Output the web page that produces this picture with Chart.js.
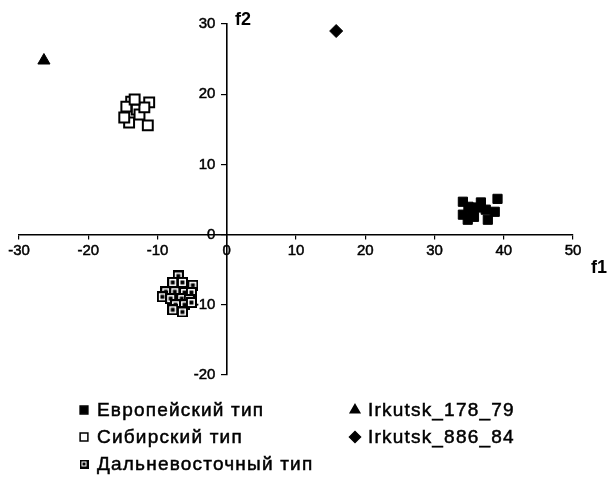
<!DOCTYPE html>
<html>
<head>
<meta charset="utf-8">
<script src="https://cdn.jsdelivr.net/npm/chart.js@4"></script>
<style>
  html, body { margin: 0; padding: 0; background: #fff; }
  #wrap { width: 609px; height: 477px; position: relative; }
</style>
</head>
<body>
<div id="wrap"><canvas id="chart"></canvas></div>
<script>
// данные (f1, f2)
const europeanX = [34.1, 34.1, 34.9, 35.7, 36.7, 37.4, 37.7, 34.8, 39.1, 38.7, 35.5, 36.2];
const europeanY = [4.68, 2.84, 3.96, 2.53, 4.58, 3.55, 2.12, 2.12, 5.09, 3.25, 3.35, 3.86];
const siberianX = [-13.8, -11.2, -13.0, -14.5, -14.1, -11.4, -12.6, -14.8, -11.9, -13.3];
const siberianY = [18.94, 18.84, 17.82, 18.23, 15.97, 15.56, 17.1, 16.69, 18.12, 19.25];
const fareastX = [-7.0, -7.8, -6.4, -4.9, -8.8, -7.5, -6.1, -5.1, -9.3, -8.1, -6.5, -5.4, -7.4, -6.1, -7.8, -6.4, -5.1];
const fareastY = [-5.89, -6.81, -6.81, -7.22, -8.14, -8.14, -8.25, -8.25, -8.86, -9.12, -9.12, -9.27, -9.99, -9.99, -10.71, -11.02, -9.68];
const irk178 = [-26.4, 24.8];
const irk886 = [15.8, 29.0];
const xTicks = [-30, -20, -10, 0, 10, 20, 30, 40, 50];
const yTicks = [-20, -10, 0, 10, 20, 30];

const toPts = (xs, ys) => xs.map((x, i) => ({ x: x, y: ys[i] }));

// маркер "квадрат с точкой"
function dotSquare(n) {
  const c = document.createElement("canvas");
  c.width = n; c.height = n;
  const g = c.getContext("2d");
  g.fillStyle = "#000";
  g.fillRect(0, 0, n, n);
  g.fillStyle = "#fff";
  g.fillRect(2, 2, n - 4, n - 4);
  g.fillStyle = "#000";
  const d = Math.round(n / 3);
  g.fillRect((n - d) / 2, (n - d) / 2, d, d);
  return c;
}

const FONT = "'Liberation Sans', Arial, sans-serif";

const legendItems = [
  { col: 0, row: 0, label: "Европейский тип", ds: 0 },
  { col: 0, row: 1, label: "Сибирский тип", ds: 1 },
  { col: 0, row: 2, label: "Дальневосточный тип", ds: 2 },
  { col: 1, row: 0, label: "Irkutsk_178_79", ds: 3 },
  { col: 1, row: 1, label: "Irkutsk_886_84", ds: 4 },
];

const extras = {
  id: "extras",
  afterDraw(chart) {
    const ctx = chart.ctx;
    ctx.save();
    ctx.fillStyle = "#000";
    ctx.font = "bold 18px " + FONT;
    ctx.textBaseline = "middle";
    ctx.textAlign = "left";
    ctx.fillText("f2", 235, 20);
    ctx.fillText("f1", 591, 268);

    ctx.font = "19px " + FONT;
    ctx.letterSpacing = "1.2px";
    legendItems.forEach((it) => {
      const x = it.col === 0 ? 84 : 355;
      const y = 410 + it.row * 27;
      const ds = chart.data.datasets[it.ds];
      const style = ds.pointStyle;
      if (style instanceof HTMLCanvasElement) {
        ctx.drawImage(dotSquare(9), x - 4.5, y - 4.5);
      } else {
        ctx.fillStyle = ds.backgroundColor;
        ctx.strokeStyle = "#000";
        ctx.lineWidth = 1.5;
        Chart.helpers.drawPoint(ctx, { pointStyle: style, radius: 5.5, rotation: 0, borderWidth: 1.5 }, x, y);
      }
      ctx.fillStyle = "#000";
      ctx.strokeStyle = "#000";
      ctx.lineWidth = 0.5;
      ctx.fillText(it.label, x + 13, y + 1);
      ctx.strokeText(it.label, x + 13, y + 1);
    });
    ctx.restore();
  },
};

new Chart(document.getElementById("chart"), {
  type: "scatter",
  data: {
    datasets: [
      { label: "Европейский тип", data: toPts(europeanX, europeanY), pointStyle: "rect", pointRadius: 6.5, backgroundColor: "#000", borderColor: "#000", borderWidth: 1 },
      { label: "Сибирский тип", data: toPts(siberianX, siberianY), pointStyle: "rect", pointRadius: 7, backgroundColor: "#fff", borderColor: "#000", borderWidth: 2 },
      { label: "Дальневосточный тип", data: toPts(fareastX, fareastY), pointStyle: dotSquare(11), backgroundColor: "#fff", borderColor: "#000" },
      { label: "Irkutsk_178_79", data: [{ x: irk178[0], y: irk178[1] }], pointStyle: "triangle", pointRadius: 7, backgroundColor: "#000", borderColor: "#000", borderWidth: 1 },
      { label: "Irkutsk_886_84", data: [{ x: irk886[0], y: irk886[1] }], pointStyle: "rectRot", pointRadius: 6.5, backgroundColor: "#000", borderColor: "#000", borderWidth: 1 },
    ],
  },
  options: {
    responsive: true,
    maintainAspectRatio: false,
    animation: false,
    layout: { padding: { left: 19, right: 36, top: 24, bottom: 102 } },
    plugins: { legend: { display: false }, tooltip: { enabled: false } },
    scales: {
      x: {
        type: "linear",
        position: { y: 0 },
        min: -30, max: 50,
        afterBuildTicks: (s) => { s.ticks = xTicks.map((v) => ({ value: v })); },
        grid: { display: true, drawOnChartArea: false, drawTicks: true, tickLength: 4, color: "#000", lineWidth: 1.2 },
        border: { display: true, color: "#000", width: 1.6 },
        ticks: { color: "#000", font: { family: FONT, size: 15 }, padding: 3, textStrokeColor: "#000", textStrokeWidth: 0.5 },
      },
      y: {
        type: "linear",
        position: { x: 0 },
        min: -20, max: 30,
        afterBuildTicks: (s) => { s.ticks = yTicks.map((v) => ({ value: v })); },
        grid: { display: true, drawOnChartArea: false, drawTicks: true, tickLength: 5, color: "#000", lineWidth: 1.2 },
        border: { display: true, color: "#000", width: 1.6 },
        // подписи оси с центровкой рисуются вплотную к оси — отодвигаем пробелами
        ticks: { color: "#000", font: { family: FONT, size: 15 }, textStrokeColor: "#000", textStrokeWidth: 0.5, callback: (v) => v + "  \u2009" },
      },
    },
  },
  plugins: [extras],
});
</script>
</body>
</html>
